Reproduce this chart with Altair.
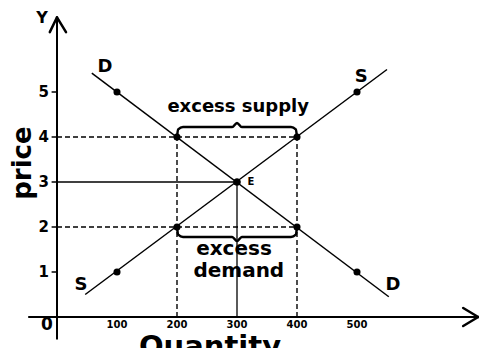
import altair as alt
import pandas as pd

# ---------------- data ----------------
quantity_ticks = [100, 200, 300, 400, 500]
price_ticks = [1, 2, 3, 4, 5]

demand_pts_q = [100, 200, 300, 400, 500]
demand_pts_p = [5, 4, 3, 2, 1]
supply_pts_q = [100, 200, 300, 400, 500]
supply_pts_p = [1, 2, 3, 4, 5]

demand_line_q = [58, 553]
demand_line_p = [5.42, 0.45]
supply_line_q = [47, 550]
supply_line_p = [0.5, 5.5]

# guide segments (q, p, q2, p2)
dashed_q = [0, 0, 200, 400]
dashed_p = [4, 2, 0, 0]
dashed_q2 = [400, 400, 200, 400]
dashed_p2 = [4, 2, 4, 4]
solid_q = [0, 300]
solid_p = [3, 0]
solid_q2 = [300, 300]
solid_p2 = [3, 3]

# braces
brace_q = [200, 202, 210, 292, 300, 308, 390, 398, 400]
brace_supply_p = [4.0, 4.17, 4.22, 4.22, 4.31, 4.22, 4.22, 4.17, 4.0]
brace_demand_p = [2.0, 1.83, 1.78, 1.78, 1.69, 1.78, 1.78, 1.83, 2.0]

# axes (drawn as segments)
axis_q = [0, -48]
axis_p = [6.62, 0]
axis_q2 = [0, 702]
axis_p2 = [-0.5, 0]
arrow_q = [-12, 15, 677, 677]
arrow_p = [6.33, 6.33, 0.2, -0.2]
arrow_q2 = [0, 0, 702, 702]
arrow_p2 = [6.66, 6.66, 0, 0]

# ---------------- scales ----------------
W, H = 471, 340
xs = alt.Scale(domain=[-49 / 0.6, (W - 49) / 0.6], nice=False, zero=False)
ys = alt.Scale(domain=[(309 - H) / 45, 309 / 45], nice=False, zero=False)


def X(f):
    return alt.X(f, type="quantitative", scale=xs, axis=None)


def Y(f):
    return alt.Y(f, type="quantitative", scale=ys, axis=None)


def segs(q, p, q2, p2):
    return pd.DataFrame({"q": q, "p": p, "q2": q2, "p2": p2})


def rule_layer(df, **kw):
    return alt.Chart(df).mark_rule(color="black", **kw).encode(
        x=X("q"), y=Y("p"), x2="q2:Q", y2="p2:Q"
    )


layers = []

# axes
layers.append(rule_layer(segs(axis_q, axis_p, axis_q2, axis_p2), strokeWidth=2))
layers.append(
    rule_layer(
        segs(arrow_q, arrow_p, arrow_q2, arrow_p2), strokeWidth=2.5, strokeCap="round"
    )
)
# y tick marks
layers.append(
    rule_layer(
        segs([-9] * 5, price_ticks, [0] * 5, price_ticks), strokeWidth=1.5
    )
)
# dashed guides
layers.append(
    rule_layer(
        segs(dashed_q, dashed_p, dashed_q2, dashed_p2),
        strokeWidth=1.4,
        strokeDash=[5, 3],
    )
)
# solid guides
layers.append(
    rule_layer(segs(solid_q, solid_p, solid_q2, solid_p2), strokeWidth=1.3)
)
# demand and supply curves
layers.append(
    rule_layer(
        segs(
            [demand_line_q[0], supply_line_q[0]],
            [demand_line_p[0], supply_line_p[0]],
            [demand_line_q[1], supply_line_q[1]],
            [demand_line_p[1], supply_line_p[1]],
        ),
        strokeWidth=1.5,
    )
)

# braces
brace_df = pd.DataFrame(
    {
        "q": brace_q + brace_q,
        "p": brace_supply_p + brace_demand_p,
        "b": ["s"] * len(brace_q) + ["d"] * len(brace_q),
        "o": list(range(len(brace_q))) * 2,
    }
)
layers.append(
    alt.Chart(brace_df)
    .mark_line(color="black", strokeWidth=2.5, interpolate="monotone")
    .encode(x=X("q"), y=Y("p"), detail="b:N", order="o:Q")
)

# points
pts = pd.DataFrame(
    {"q": demand_pts_q + supply_pts_q, "p": demand_pts_p + supply_pts_p}
)
layers.append(
    alt.Chart(pts)
    .mark_point(filled=True, color="black", size=50, opacity=1)
    .encode(x=X("q"), y=Y("p"))
)


def text_layer(df, size, **kw):
    return (
        alt.Chart(df)
        .mark_text(
            font="DejaVu Sans", fontWeight="bold", fontSize=size, color="black", **kw
        )
        .encode(x=X("q"), y=Y("p"), text="t:N")
    )


# curve letters
layers.append(
    text_layer(
        pd.DataFrame(
            {"q": [80, 507, 40, 560], "p": [5.56, 5.33, 0.71, 0.71], "t": ["D", "S", "S", "D"]}
        ),
        18,
    )
)
# E
layers.append(text_layer(pd.DataFrame({"q": [323], "p": [3.0], "t": ["E"]}), 10))
# excess supply
layers.append(
    text_layer(pd.DataFrame({"q": [302], "p": [4.67], "t": ["excess supply"]}), 18)
)
# excess demand
layers.append(
    text_layer(
        pd.DataFrame({"q": [295, 303], "p": [1.52, 1.02], "t": ["excess", "demand"]}),
        20,
    )
)
# Y label
layers.append(text_layer(pd.DataFrame({"q": [-25], "p": [6.64], "t": ["Y"]}), 16))
# X label (cut by edge, as in the reference)
layers.append(
    text_layer(pd.DataFrame({"q": [704], "p": [0.0], "t": ["X"]}), 16, align="left")
)
# origin
layers.append(text_layer(pd.DataFrame({"q": [-17], "p": [-0.18], "t": ["0"]}), 17))
# price tick labels
layers.append(
    text_layer(
        pd.DataFrame(
            {"q": [-22] * 5, "p": price_ticks, "t": [str(v) for v in price_ticks]}
        ),
        15,
    )
)
# quantity tick labels
layers.append(
    text_layer(
        pd.DataFrame(
            {
                "q": quantity_ticks,
                "p": [-0.17] * 5,
                "t": [str(v) for v in quantity_ticks],
            }
        ),
        10,
    )
)
# axis titles
layers.append(
    text_layer(pd.DataFrame({"q": [-57], "p": [3.42], "t": ["price"]}), 26, angle=270)
)
layers.append(
    text_layer(
        pd.DataFrame({"q": [255], "p": [-0.86], "t": ["Quantity"]}),
        29,
        baseline="alphabetic",
    )
)

chart = (
    alt.layer(*layers)
    .properties(
        width=W,
        height=H,
        padding=0,
        autosize=alt.AutoSizeParams(type="none"),
        background="white",
    )
    .configure_view(stroke=None)
)

chart.save("out.html", embed_options={"renderer": "svg", "actions": False})
